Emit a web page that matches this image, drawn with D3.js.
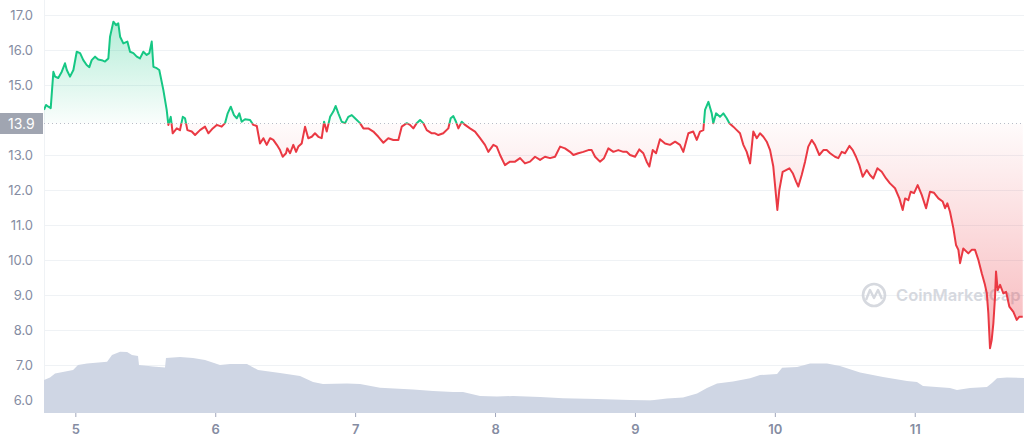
<!DOCTYPE html>
<html>
<head>
<meta charset="utf-8">
<script src="https://cdn.jsdelivr.net/npm/d3@7"></script>
<style>
  html, body { margin: 0; padding: 0; background: #fff; }
  svg { display: block; font-family: Inter, "Noto Sans", sans-serif; }
</style>
</head>
<body>
<svg id="chart" width="1024" height="441"></svg>
<script>
// ---- data ----
const priceDays = [4.776,4.791,4.807,4.824,4.843,4.855,4.878,4.903,4.926,4.939,4.962,4.986,5.010,5.034,5.057,5.081,5.100,5.117,5.141,5.164,5.189,5.212,5.236,5.248,5.272,5.291,5.307,5.320,5.343,5.372,5.391,5.415,5.439,5.462,5.486,5.510,5.529,5.546,5.558,5.582,5.600,5.629,5.653,5.665,5.682,5.696,5.725,5.748,5.768,5.784,5.801,5.832,5.856,5.891,5.927,5.951,5.982,6.011,6.046,6.070,6.089,6.111,6.134,6.154,6.172,6.189,6.213,6.249,6.272,6.297,6.320,6.344,6.368,6.392,6.415,6.440,6.463,6.482,6.506,6.515,6.535,6.558,6.578,6.594,6.618,6.642,6.665,6.690,6.713,6.737,6.761,6.778,6.797,6.821,6.844,6.861,6.880,6.904,6.928,6.951,6.976,6.999,7.035,7.059,7.094,7.130,7.166,7.202,7.237,7.273,7.309,7.333,7.369,7.392,7.416,7.440,7.464,7.487,7.512,7.548,7.571,7.595,7.630,7.666,7.683,7.702,7.721,7.738,7.762,7.786,7.821,7.857,7.893,7.928,7.952,7.988,8.012,8.036,8.071,8.107,8.143,8.179,8.214,8.250,8.286,8.322,8.357,8.393,8.429,8.465,8.500,8.536,8.560,8.595,8.631,8.667,8.691,8.715,8.750,8.779,8.810,8.846,8.881,8.917,8.941,8.965,9.001,9.031,9.060,9.084,9.103,9.127,9.151,9.179,9.215,9.251,9.287,9.322,9.346,9.382,9.417,9.442,9.465,9.489,9.501,9.525,9.549,9.560,9.580,9.608,9.632,9.656,9.675,9.703,9.728,9.751,9.775,9.799,9.823,9.846,9.871,9.894,9.918,9.942,9.966,9.989,10.018,10.032,10.056,10.080,10.104,10.128,10.152,10.168,10.192,10.216,10.239,10.264,10.287,10.318,10.347,10.371,10.395,10.430,10.454,10.478,10.502,10.533,10.557,10.580,10.604,10.628,10.657,10.680,10.704,10.733,10.764,10.795,10.823,10.859,10.890,10.914,10.931,10.954,10.971,10.995,11.021,11.050,11.081,11.109,11.138,11.169,11.200,11.217,11.233,11.252,11.276,11.295,11.312,11.324,11.347,11.383,11.407,11.431,11.455,11.479,11.502,11.515,11.526,11.538,11.550,11.562,11.574,11.581,11.593,11.610,11.633,11.653,11.676,11.705,11.729,11.748,11.772];
const priceValues = [14.29,14.43,14.38,14.34,15.38,15.24,15.20,15.38,15.62,15.43,15.24,15.43,15.95,15.91,15.71,15.57,15.51,15.71,15.81,15.73,15.71,15.67,15.76,16.38,16.81,16.71,16.76,16.38,16.19,16.24,15.95,15.91,15.81,15.76,15.95,15.86,15.91,16.24,15.52,15.48,15.43,14.86,14.29,13.86,14.09,13.62,13.76,13.71,14.09,14.05,13.71,13.67,13.57,13.71,13.81,13.62,13.76,13.86,13.81,13.91,14.19,14.38,14.14,14.05,14.19,13.95,14.02,14.00,13.86,13.83,13.33,13.48,13.29,13.48,13.43,13.29,13.14,12.95,13.05,13.19,13.05,13.29,13.09,13.24,13.33,13.81,13.48,13.52,13.62,13.52,13.48,13.95,13.67,14.09,14.24,14.40,14.19,13.95,13.91,14.09,14.14,14.05,13.91,13.76,13.76,13.67,13.52,13.35,13.48,13.43,13.43,13.81,13.91,13.86,13.76,13.91,14.00,13.91,13.71,13.62,13.62,13.57,13.62,13.76,14.05,14.11,13.95,13.76,13.95,13.86,13.76,13.67,13.48,13.29,13.09,13.29,13.24,13.00,12.71,12.81,12.81,12.91,12.76,12.81,12.95,12.86,12.95,12.91,12.95,13.24,13.19,13.09,13.00,13.05,13.09,13.14,13.14,12.95,12.81,12.91,13.19,13.09,13.14,13.09,13.09,13.00,12.95,13.16,13.05,12.81,12.67,13.14,13.05,13.45,13.33,13.29,13.38,13.29,13.09,13.62,13.67,13.43,13.67,13.71,14.29,14.52,14.19,13.91,14.19,14.09,14.19,14.05,13.91,13.81,13.71,13.62,13.29,13.09,12.76,13.67,13.48,13.62,13.52,13.38,13.14,12.67,11.43,12.00,12.52,12.57,12.62,12.48,12.24,12.10,12.43,12.81,13.24,13.43,13.29,13.00,13.14,13.14,13.05,12.95,12.91,13.09,13.05,13.26,13.14,12.95,12.71,12.38,12.57,12.43,12.33,12.62,12.52,12.33,12.19,12.05,11.76,11.43,11.76,11.71,11.95,11.91,12.14,11.86,11.48,11.95,11.92,11.76,11.67,11.48,11.62,11.38,10.91,10.43,10.29,9.91,10.33,10.19,10.29,10.29,10.00,9.62,9.29,9.05,8.48,7.48,7.71,8.19,8.95,9.67,9.14,9.29,9.05,9.09,8.67,8.52,8.29,8.38,8.38];
const volumeDays = [4.776,4.819,4.855,4.984,5.019,5.084,5.227,5.262,5.320,5.370,5.405,5.448,5.455,5.555,5.641,5.648,5.748,5.841,5.927,6.034,6.106,6.227,6.306,6.463,6.606,6.699,6.770,6.942,7.035,7.178,7.414,7.557,7.700,7.771,7.893,8.014,8.129,8.322,8.486,8.729,8.965,9.108,9.229,9.344,9.444,9.515,9.587,9.701,9.823,9.894,10.016,10.052,10.159,10.252,10.373,10.466,10.609,10.773,10.945,11.016,11.059,11.252,11.302,11.395,11.516,11.552,11.588,11.659,11.781];
const volumeValues = [165,178,198,215,240,248,256,290,306,305,290,285,240,232,228,275,280,275,265,240,245,245,215,200,185,155,145,148,145,126,118,110,105,105,85,82,85,80,74,70,65,62,72,77,98,125,148,158,174,190,195,226,230,248,248,235,202,180,160,155,135,125,115,125,130,150,174,178,175];
const baselinePrice = 13.9;
const yTickValues = [6,7,8,9,10,11,12,13,15,16,17];
const xTickValues = [5,6,7,8,9,10,11];
const xDomain = [4.776, 11.781];

// ---- setup ----
const W = 1024, H = 441;
const left = 44, right = 1024, plotBottom = 413;
const svg = d3.select('#chart');
const price = priceDays.map((d, i) => ({d, v: priceValues[i]}));
const volume = volumeDays.map((d, i) => ({d, v: volumeValues[i]}));

const x = d3.scaleLinear().domain(xDomain).range([left, right]);
const y = d3.scaleLinear().domain([6, 17]).range([400, 15]);
const yv = d3.scaleLinear().domain([0, 400]).range([plotBottom, plotBottom - 80]);
const yBase = y(baselinePrice);

const defs = svg.append('defs');
defs.append('clipPath').attr('id', 'clipAbove').append('rect')
  .attr('x', left).attr('y', 0).attr('width', right - left).attr('height', yBase);
defs.append('clipPath').attr('id', 'clipBelow').append('rect')
  .attr('x', left).attr('y', yBase).attr('width', right - left).attr('height', H - yBase);

const gGreen = defs.append('linearGradient').attr('id', 'gGreen')
  .attr('gradientUnits', 'userSpaceOnUse').attr('x1', 0).attr('x2', 0)
  .attr('y1', y(d3.max(priceValues))).attr('y2', yBase);
gGreen.append('stop').attr('offset', 0).attr('stop-color', '#16c784').attr('stop-opacity', 0.32);
gGreen.append('stop').attr('offset', 1).attr('stop-color', '#16c784').attr('stop-opacity', 0.02);
const gRed = defs.append('linearGradient').attr('id', 'gRed')
  .attr('gradientUnits', 'userSpaceOnUse').attr('x1', 0).attr('x2', 0)
  .attr('y1', yBase).attr('y2', y(d3.min(priceValues)));
gRed.append('stop').attr('offset', 0).attr('stop-color', '#ea3943').attr('stop-opacity', 0.02);
gRed.append('stop').attr('offset', 1).attr('stop-color', '#ea3943').attr('stop-opacity', 0.36);

// gridlines
const grid = svg.append('g');
grid.selectAll('line').data(yTickValues).join('line')
  .attr('x1', left).attr('x2', right)
  .attr('y1', d => Math.round(y(d)) + 0.5).attr('y2', d => Math.round(y(d)) + 0.5)
  .attr('stroke', '#eff2f5').attr('stroke-width', 1);
svg.append('line').attr('x1', left + 0.5).attr('x2', left + 0.5).attr('y1', 0).attr('y2', plotBottom)
  .attr('stroke', '#eff2f5');

// y axis labels
const yAxis = d3.axisLeft(y).tickValues(yTickValues).tickFormat(d3.format('.1f')).tickSize(0).tickPadding(0);
const ya = svg.append('g').attr('transform', `translate(33,0)`).call(yAxis);
ya.select('.domain').remove();
ya.selectAll('text').attr('fill', '#858ca2').attr('font-size', 13).attr('font-family', 'Inter, sans-serif');

// volume
svg.append('path').datum(volume)
  .attr('fill', '#cfd6e4')
  .attr('d', d3.area().x(d => x(d.d)).y0(plotBottom).y1(d => yv(d.v)));

// x axis
const xAxis = d3.axisBottom(x).tickValues(xTickValues).tickFormat(d3.format('d')).tickSize(4).tickPadding(8);
const xa = svg.append('g').attr('transform', `translate(0,${plotBottom})`).call(xAxis);
xa.select('.domain').remove();
xa.selectAll('line').attr('stroke', '#a1a7bb');
xa.selectAll('text').attr('fill', '#858ca2').attr('font-size', 13).attr('font-weight', 600).attr('font-family', 'Inter, sans-serif');

// watermark
const wm = svg.append('g').attr('opacity', 0.9);
wm.append('circle').attr('cx', 874).attr('cy', 295).attr('r', 11).attr('fill', 'none')
  .attr('stroke', '#d2d5dc').attr('stroke-width', 2.6);
wm.append('path').attr('d', 'M866,300 L870,290 L874,298 L878,290 L882,299')
  .attr('fill', 'none').attr('stroke', '#d2d5dc').attr('stroke-width', 2.4).attr('stroke-linejoin', 'round');
wm.append('text').attr('x', 896).attr('y', 301).text('CoinMarketCap')
  .attr('font-size', 16.5).attr('font-weight', 600).attr('fill', '#d2d5dc').attr('font-family', 'Inter, sans-serif');

// fills
const area = d3.area().x(d => x(d.d)).y0(yBase).y1(d => y(d.v));
svg.append('path').datum(price).attr('clip-path', 'url(#clipAbove)').attr('fill', 'url(#gGreen)').attr('d', area);
svg.append('path').datum(price).attr('clip-path', 'url(#clipBelow)').attr('fill', 'url(#gRed)').attr('d', area);

// baseline dotted
svg.append('line').attr('x1', left).attr('x2', right).attr('y1', yBase).attr('y2', yBase)
  .attr('stroke', '#b8bdc8').attr('stroke-width', 1).attr('stroke-dasharray', '1,3');

// lines
const line = d3.line().x(d => x(d.d)).y(d => y(d.v));
svg.append('path').datum(price).attr('clip-path', 'url(#clipAbove)').attr('fill', 'none')
  .attr('stroke', '#16c784').attr('stroke-width', 2).attr('stroke-linejoin', 'round').attr('d', line);
svg.append('path').datum(price).attr('clip-path', 'url(#clipBelow)').attr('fill', 'none')
  .attr('stroke', '#ea3943').attr('stroke-width', 2).attr('stroke-linejoin', 'round').attr('d', line);

// baseline label
svg.append('rect').attr('x', 0).attr('y', yBase - 10.5).attr('width', left - 1).attr('height', 21)
  .attr('fill', '#a0a5b1');
svg.append('text').attr('x', 8).attr('y', yBase + 5).text(d3.format('.1f')(baselinePrice))
  .attr('fill', '#fff').attr('font-size', 14).attr('font-family', 'Inter, sans-serif');
</script>
</body>
</html>
